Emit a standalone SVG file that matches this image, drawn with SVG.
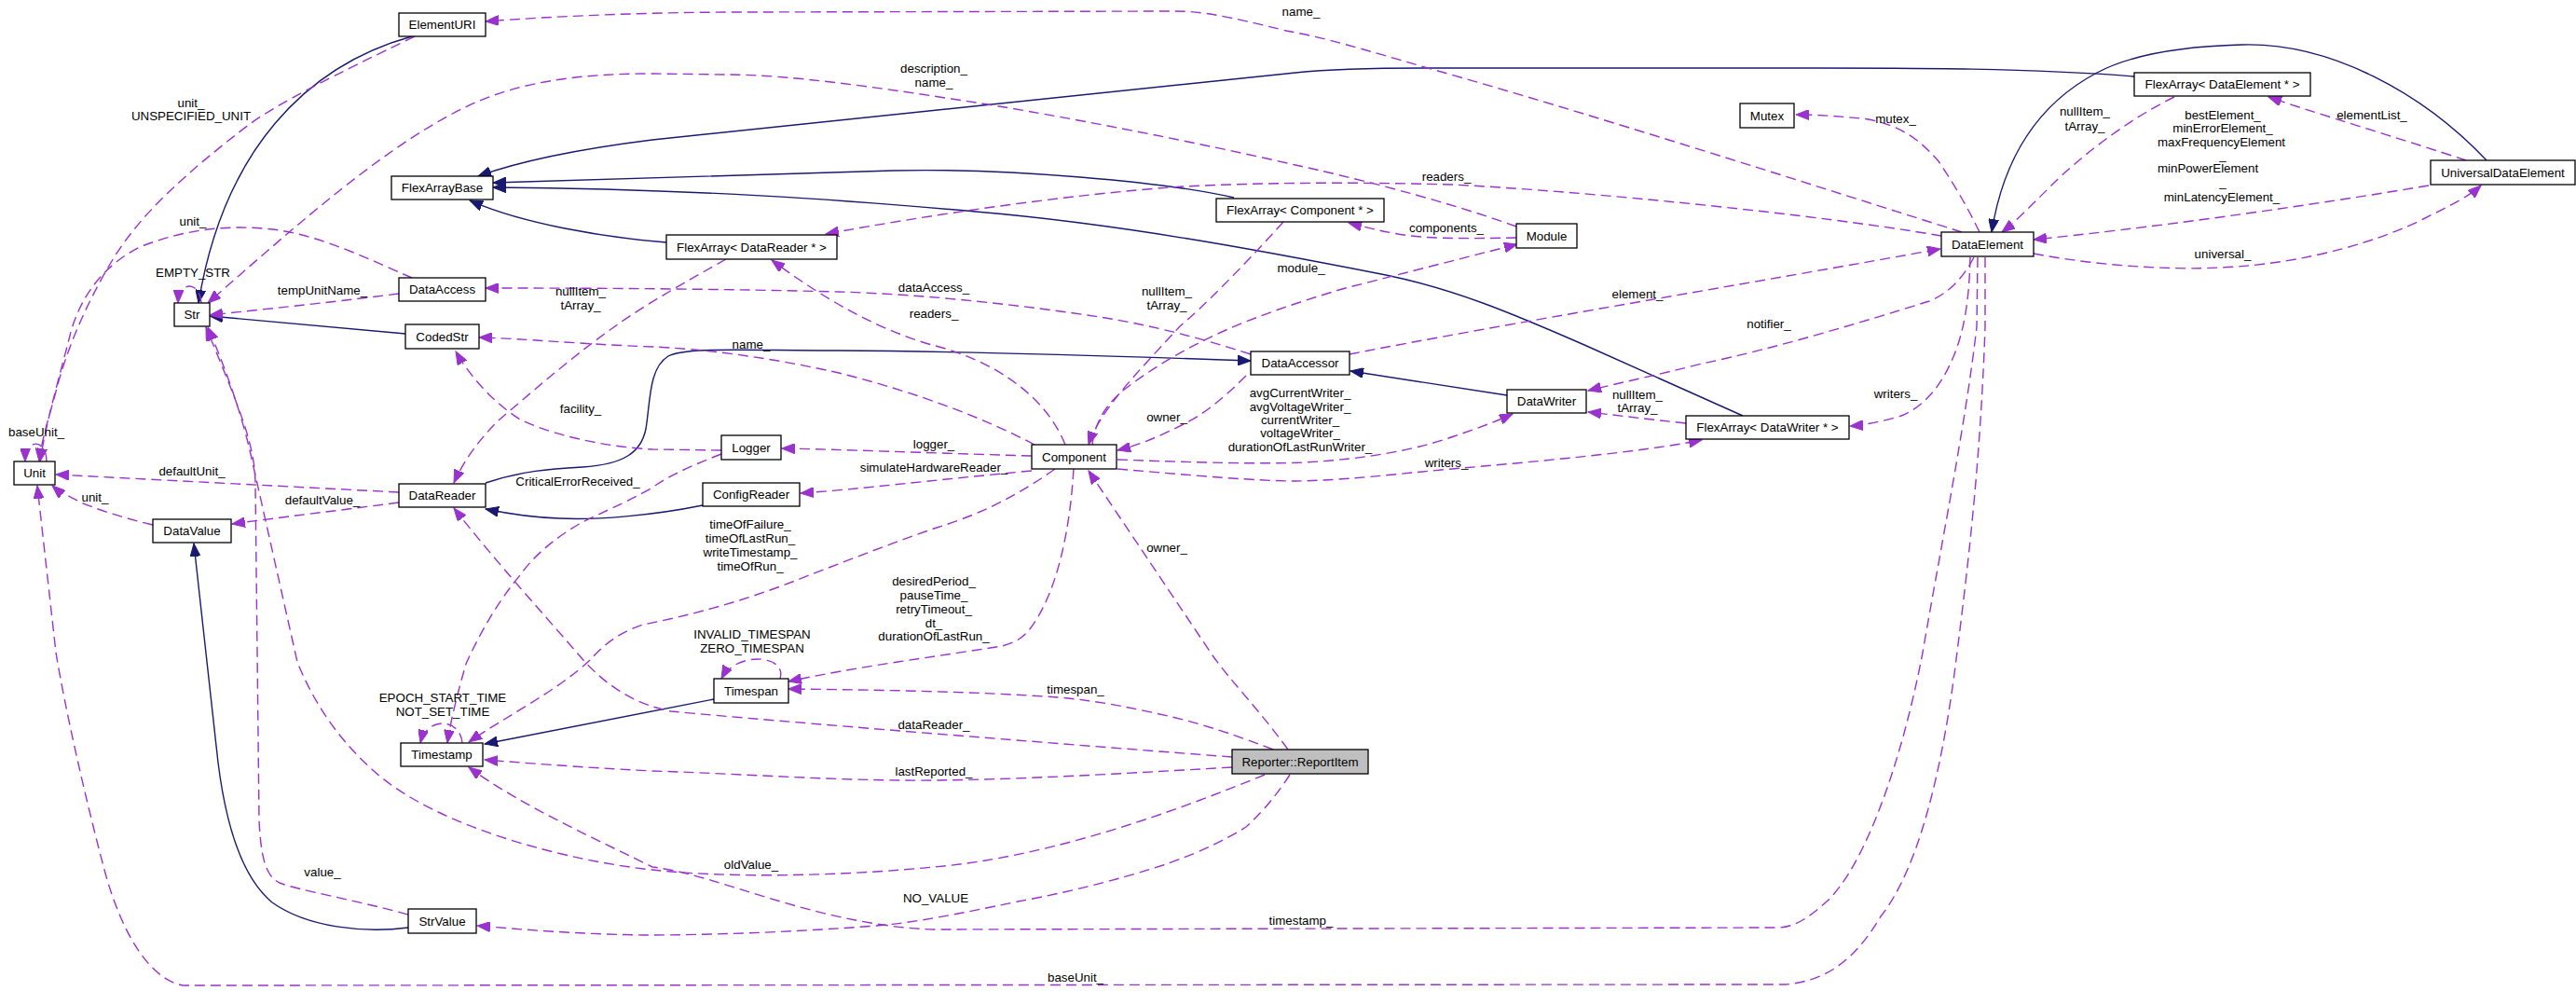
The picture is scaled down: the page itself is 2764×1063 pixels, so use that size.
<svg xmlns="http://www.w3.org/2000/svg" width="2764" height="1063" viewBox="0 0 2764 1063">
<defs>
<marker id="an" markerUnits="userSpaceOnUse" markerWidth="15" markerHeight="11" refX="14" refY="5.5" orient="auto"><path d="M0,0 L14,5.5 L0,11 z" fill="#191970" stroke="#191970" stroke-width="1"/></marker>
<marker id="ap" markerUnits="userSpaceOnUse" markerWidth="15" markerHeight="11" refX="14" refY="5.5" orient="auto"><path d="M0,0 L14,5.5 L0,11 z" fill="#9a32cd" stroke="#9a32cd" stroke-width="1"/></marker>
<style>
.node rect{fill:#fff;stroke:#000;stroke-width:1.3}
.root rect{fill:#bfbfbf}
text{font-family:"Liberation Sans",Arial,Helvetica,sans-serif;font-size:13.33px;fill:#000}
.node text,.lb{text-anchor:middle}
.ls{text-anchor:start}
.inh{fill:none;stroke:#191970;stroke-width:1.4;marker-end:url(#an)}
.use{fill:none;stroke:#9a32cd;stroke-width:1.4;stroke-dasharray:11,6;marker-end:url(#ap)}
</style>
</defs>
<rect width="2764" height="1063" fill="#fff"/>
<g id="connectors">
<!-- inheritance -->
<path class="inh" d="M442,39 C330,70 240,160 213,325"/>
<path class="inh" d="M435,358 L225,339"/>
<path class="inh" d="M2290,82 C2180,73 2050,73 1950,73 L1532,73 C1470,73 1430,74 1390,78 L700,150 C620,160 560,172 513,189"/>
<path class="inh" d="M2668,172 C2600,100 2500,45 2405,48 C2330,50 2280,62 2250,78 C2180,115 2148,180 2137,249"/>
<path class="inh" d="M1324,212 C1250,195 1080,180 958,183 C850,185 700,190 529,196"/>
<path class="inh" d="M1870,446 L1700,370 C1620,335 1560,310 1487,295 C1350,268 1200,240 1047,227 C900,214 750,203 529,201"/>
<path class="inh" d="M715,260 C650,255 560,240 504,215"/>
<path class="inh" d="M521,518 C560,505 590,503 625,501 C670,498 688,485 693,460 C698,430 696,395 717,382 C735,372 800,376 900,376 C1050,377 1200,382 1342,387"/>
<path class="inh" d="M1617,424 L1449,398"/>
<path class="inh" d="M754,542 C700,553 640,558 600,556 C570,555 545,551 521,546"/>
<path class="inh" d="M438,995 C390,1001 330,995 292,968 C258,940 240,880 232,800 L208,583"/>
<path class="inh" d="M766,750 L520,798"/>
<!-- usage -->
<path class="use" d="M2105,249 C1950,200 1700,120 1532,73 C1460,52 1420,40 1380,33 C1320,18 1290,12 1261,12 L800,13 C700,13 600,17 521,23"/>
<path class="use" d="M1627,243 C1550,215 1450,190 1390,177 C1250,145 1100,118 1047,110 C950,95 850,80 779,80 L700,79 C620,79 560,88 510,110 C420,150 320,240 223,325"/>
<path class="use" d="M216,325 C215,302 192,300 191,325"/>
<path class="use" d="M428,315 C350,325 280,332 225,338"/>
<path class="use" d="M438,981 C380,965 320,955 300,947 C285,940 280,920 278,880 L274,520 C274,500 270,480 262,455 C250,420 235,385 221,351"/>
<path class="use" d="M1357,831 C1250,875 1120,920 1002,930 C900,940 780,942 700,933 C620,925 470,890 400,826 C360,790 335,750 319,710 L268,483 C258,440 240,390 223,351"/>
<path class="use" d="M445,39 C360,80 300,110 268,133 C200,185 150,230 120,280 C90,330 70,380 60,420 C52,450 45,470 42,495"/>
<path class="use" d="M442,298 C400,280 350,255 300,247 C250,240 200,245 150,265 C110,285 85,320 75,360 C65,400 50,450 43,495"/>
<path class="use" d="M50,495 C50,470 27,470 27,495"/>
<path class="use" d="M428,528 L60,509"/>
<path class="use" d="M428,539 C360,548 300,555 249,562"/>
<path class="use" d="M164,563 C130,555 100,545 85,538 C72,531 64,528 56,521"/>
<path class="use" d="M2130,276 L2130,350 C2125,500 2110,620 2099,707 C2085,820 2060,930 2018,983 C1990,1030 1960,1052 1916,1056 L196,1057 C160,1050 130,1000 112,933 C90,850 70,760 60,700 L40,521"/>
<path class="use" d="M2122,276 L2121,350 C2110,450 2080,600 2063,700 C2040,820 2000,930 1960,967 C1940,985 1925,995 1907,995 L1002,997 C940,995 880,980 824,963 C780,950 740,935 700,930 C650,905 560,865 503,823"/>
<path class="use" d="M2083,253 C1950,230 1700,205 1558,198 C1450,195 1350,196 1270,200 C1150,208 1000,230 886,251"/>
<path class="use" d="M1143,477 C1120,420 1060,385 1000,370 C930,350 870,310 828,279"/>
<path class="use" d="M779,278 C740,300 690,328 660,350 C610,385 560,430 536,450 C510,475 495,500 487,518"/>
<path class="use" d="M1322,812 C1100,795 850,775 720,763 C680,755 650,735 625,707 C580,655 530,600 487,545"/>
<path class="use" d="M1342,380 C1280,360 1230,348 1180,340 C1100,328 1000,316 900,313 C780,310 650,309 521,309"/>
<path class="use" d="M1110,477 C1040,440 960,415 900,400 C820,382 750,374 700,372 C620,369 560,363 514,362"/>
<path class="use" d="M774,483 L700,482 C660,480 600,470 558,450 C530,432 505,405 489,377"/>
<path class="use" d="M1107,489 C1000,486 900,482 839,481"/>
<path class="use" d="M1107,505 C1000,515 920,525 859,529"/>
<path class="use" d="M496,797 C494,770 458,768 451,797"/>
<path class="use" d="M774,487 C740,500 715,512 700,523 C670,540 645,550 625,560 C590,580 570,600 558,617 C530,650 510,690 500,712 C492,740 484,770 480,797"/>
<path class="use" d="M1132,503 C1080,540 1040,555 1002,567 C950,585 900,605 868,617 C800,645 740,660 690,670 C660,680 645,695 634,707 C600,740 540,770 503,796"/>
<path class="use" d="M1322,823 C1200,830 1100,836 1002,837 C900,838 800,830 700,827 C620,823 560,818 520,815"/>
<path class="use" d="M837,728 C845,702 790,698 774,728"/>
<path class="use" d="M1152,503 C1148,570 1135,620 1120,650 C1105,680 1095,688 1075,693 C1000,705 920,715 846,731"/>
<path class="use" d="M1366,804 C1330,790 1300,780 1270,772 C1220,760 1180,752 1136,748 C1050,742 950,740 846,739"/>
<path class="use" d="M1382,804 C1350,760 1320,730 1301,703 L1168,505"/>
<path class="use" d="M1377,238 C1330,290 1290,330 1266,350 C1220,400 1180,440 1168,477"/>
<path class="use" d="M1337,403 C1310,430 1290,445 1270,455 C1240,470 1220,478 1199,483"/>
<path class="use" d="M1172,477 C1175,450 1190,430 1210,415 C1250,385 1290,365 1320,352 C1360,335 1400,322 1440,310 L1628,262"/>
<path class="use" d="M1627,255 C1580,256 1540,256 1514,253 C1490,250 1470,245 1447,239"/>
<path class="use" d="M1448,380 C1600,350 1900,300 2082,267"/>
<path class="use" d="M2333,104 C2280,130 2230,170 2200,200 C2175,225 2160,240 2148,249"/>
<path class="use" d="M2606,199 C2450,225 2300,245 2182,257"/>
<path class="use" d="M2182,272 C2250,285 2330,290 2382,287 C2480,283 2560,255 2600,235 C2630,220 2650,210 2662,199"/>
<path class="use" d="M2646,172 C2580,150 2480,120 2434,104"/>
<path class="use" d="M2124,249 C2110,220 2095,195 2080,173 C2060,150 2040,135 2005,128 C1970,124 1945,123 1927,123"/>
<path class="use" d="M1199,493 C1280,496 1350,498 1400,496 C1470,492 1520,482 1560,468 C1590,458 1610,450 1623,444"/>
<path class="use" d="M1809,454 C1770,450 1740,446 1704,442"/>
<path class="use" d="M2118,276 C2105,300 2090,315 2070,323 C2000,345 1900,375 1826,390 C1780,402 1740,410 1704,419"/>
<path class="use" d="M1199,503 C1280,510 1350,516 1390,516 C1450,515 1500,508 1558,503 C1650,495 1760,485 1826,472"/>
<path class="use" d="M2114,276 C2113,320 2108,355 2095,385 C2080,420 2060,438 2040,446 C2020,452 2000,456 1985,457"/>
<path class="use" d="M1384,831 C1365,860 1350,875 1337,887 C1300,910 1270,920 1248,928 C1180,950 1120,962 1092,967 C1030,980 980,990 940,993 C850,1000 760,1003 690,1003 C620,1002 560,997 512,993"/>
</g>
<g id="edge-labels">
<text class="lb" x="1396" y="17">name_</text>
<text class="lb" x="1002" y="78">description_</text>
<text class="lb" x="1002" y="93">name_</text>
<text class="lb" x="207" y="297">EMPTY_STR</text>
<text class="lb" x="346" y="316">tempUnitName_</text>
<text class="lb" x="346" y="940">value_</text>
<text class="lb" x="806" y="932">oldValue_</text>
<text class="lb" x="205" y="115">unit_</text>
<text class="lb" x="205" y="129">UNSPECIFIED_UNIT</text>
<text class="lb" x="207" y="242">unit_</text>
<text class="lb" x="39" y="468">baseUnit_</text>
<text class="lb" x="206" y="510">defaultUnit_</text>
<text class="lb" x="346" y="541">defaultValue_</text>
<text class="lb" x="102" y="538">unit_</text>
<text class="lb" x="1154" y="1053">baseUnit_</text>
<text class="lb" x="1396" y="992">timestamp_</text>
<text class="lb" x="1552" y="194">readers_</text>
<text class="lb" x="1002" y="341">readers_</text>
<text class="lb" x="623" y="317">nullItem_</text>
<text class="lb" x="623" y="332">tArray_</text>
<text class="lb" x="1002" y="782">dataReader_</text>
<text class="lb" x="1002" y="313">dataAccess_</text>
<text class="lb" x="806" y="374">name_</text>
<text class="lb" x="623" y="443">facility_</text>
<text class="lb" x="1002" y="481">logger_</text>
<text class="lb" x="1002" y="506">simulateHardwareReader_</text>
<text class="lb" x="475" y="753">EPOCH_START_TIME</text>
<text class="lb" x="475" y="768">NOT_SET_TIME</text>
<text class="lb" x="620" y="521">CriticalErrorReceived_</text>
<text class="lb" x="805" y="567">timeOfFailure_</text>
<text class="lb" x="805" y="582">timeOfLastRun_</text>
<text class="lb" x="805" y="597">writeTimestamp_</text>
<text class="lb" x="805" y="612">timeOfRun_</text>
<text class="lb" x="1002" y="832">lastReported_</text>
<text class="lb" x="807" y="685">INVALID_TIMESPAN</text>
<text class="lb" x="807" y="700">ZERO_TIMESPAN</text>
<text class="lb" x="1002" y="628">desiredPeriod_</text>
<text class="lb" x="1002" y="643">pauseTime_</text>
<text class="lb" x="1002" y="658">retryTimeout_</text>
<text class="lb" x="1002" y="673">dt_</text>
<text class="lb" x="1002" y="687">durationOfLastRun_</text>
<text class="lb" x="1154" y="744">timespan_</text>
<text class="lb" x="1252" y="592">owner_</text>
<text class="lb" x="1252" y="317">nullItem_</text>
<text class="lb" x="1252" y="332">tArray_</text>
<text class="lb" x="1252" y="452">owner_</text>
<text class="lb" x="1396" y="292">module_</text>
<text class="lb" x="1552" y="249">components_</text>
<text class="lb" x="1757" y="320">element_</text>
<text class="lb" x="2237" y="124">nullItem_</text>
<text class="lb" x="2237" y="140">tArray_</text>
<text class="lb" x="2385" y="128">bestElement_</text>
<text class="lb" x="2385" y="142">minErrorElement_</text>
<text class="ls" x="2315" y="157">maxFrequencyElement</text>
<text class="lb" x="2385" y="171">_</text>
<text class="ls" x="2315" y="185">minPowerElement</text>
<text class="lb" x="2385" y="200">_</text>
<text class="lb" x="2384" y="216">minLatencyElement_</text>
<text class="lb" x="2385" y="277">universal_</text>
<text class="lb" x="2545" y="128">elementList_</text>
<text class="lb" x="2034" y="132">mutex_</text>
<text class="lb" x="1395" y="426">avgCurrentWriter_</text>
<text class="lb" x="1395" y="441">avgVoltageWriter_</text>
<text class="lb" x="1395" y="455">currentWriter_</text>
<text class="lb" x="1395" y="469">voltageWriter_</text>
<text class="lb" x="1395" y="484">durationOfLastRunWriter_</text>
<text class="lb" x="1757" y="428">nullItem_</text>
<text class="lb" x="1757" y="442">tArray_</text>
<text class="lb" x="1898" y="352">notifier_</text>
<text class="lb" x="1552" y="501">writers_</text>
<text class="lb" x="2034" y="427">writers_</text>
<text class="lb" x="1004" y="968">NO_VALUE</text>
</g>
<g id="node-ElementURI" class="node"><rect x="428" y="14" width="93" height="25"/><text x="474.5" y="31.2">ElementURI</text></g>
<g id="node-FlexArrayBase" class="node"><rect x="420" y="189" width="109" height="25"/><text x="474.5" y="206.2">FlexArrayBase</text></g>
<g id="node-DataAccess" class="node"><rect x="428" y="298" width="93" height="25"/><text x="474.5" y="315.2">DataAccess</text></g>
<g id="node-Str" class="node"><rect x="187" y="325" width="38" height="25"/><text x="206" y="342.2">Str</text></g>
<g id="node-CodedStr" class="node"><rect x="435" y="348" width="79" height="26"/><text x="474.5" y="365.7">CodedStr</text></g>
<g id="node-Unit" class="node"><rect x="15" y="495" width="44" height="25"/><text x="37" y="512.2">Unit</text></g>
<g id="node-DataReader" class="node"><rect x="428" y="519" width="93" height="25"/><text x="474.5" y="536.2">DataReader</text></g>
<g id="node-DataValue" class="node"><rect x="164" y="557" width="84" height="25"/><text x="206" y="574.2">DataValue</text></g>
<g id="node-FlexArrayDataReader" class="node"><rect x="715" y="252" width="183" height="26"/><text x="806.5" y="269.7">FlexArray&lt; DataReader * &gt;</text></g>
<g id="node-FlexArrayComponent" class="node"><rect x="1305" y="213" width="180" height="25"/><text x="1395" y="230.2">FlexArray&lt; Component * &gt;</text></g>
<g id="node-Mutex" class="node"><rect x="1867" y="111" width="58" height="26"/><text x="1896" y="128.7">Mutex</text></g>
<g id="node-Module" class="node"><rect x="1627" y="240" width="65" height="26"/><text x="1659.5" y="257.7">Module</text></g>
<g id="node-FlexArrayDataElement" class="node"><rect x="2290" y="78" width="189" height="25"/><text x="2384.5" y="95.2">FlexArray&lt; DataElement * &gt;</text></g>
<g id="node-UniversalDataElement" class="node"><rect x="2608" y="172" width="155" height="26"/><text x="2685.5" y="189.7">UniversalDataElement</text></g>
<g id="node-DataElement" class="node"><rect x="2083" y="249" width="99" height="26"/><text x="2132.5" y="266.7">DataElement</text></g>
<g id="node-DataAccessor" class="node"><rect x="1342" y="377" width="106" height="25"/><text x="1395" y="394.2">DataAccessor</text></g>
<g id="node-Logger" class="node"><rect x="774" y="467" width="64" height="26"/><text x="806" y="484.7">Logger</text></g>
<g id="node-Component" class="node"><rect x="1107" y="477" width="91" height="26"/><text x="1152.5" y="494.7">Component</text></g>
<g id="node-ConfigReader" class="node"><rect x="754" y="518" width="104" height="25"/><text x="806" y="535.2">ConfigReader</text></g>
<g id="node-DataWriter" class="node"><rect x="1617" y="418" width="85" height="25"/><text x="1659.5" y="435.2">DataWriter</text></g>
<g id="node-FlexArrayDataWriter" class="node"><rect x="1809" y="446" width="175" height="25"/><text x="1896.5" y="463.2">FlexArray&lt; DataWriter * &gt;</text></g>
<g id="node-Timestamp" class="node"><rect x="430" y="797" width="88" height="25"/><text x="474" y="814.2">Timestamp</text></g>
<g id="node-StrValue" class="node"><rect x="438" y="975" width="73" height="26"/><text x="474.5" y="992.7">StrValue</text></g>
<g id="node-Timespan" class="node"><rect x="766" y="728" width="80" height="26"/><text x="806" y="745.7">Timespan</text></g>
<g id="node-ReporterReportItem" class="node root"><rect x="1322" y="804" width="146" height="26"/><text x="1395" y="821.7">Reporter::ReportItem</text></g>
</svg>
